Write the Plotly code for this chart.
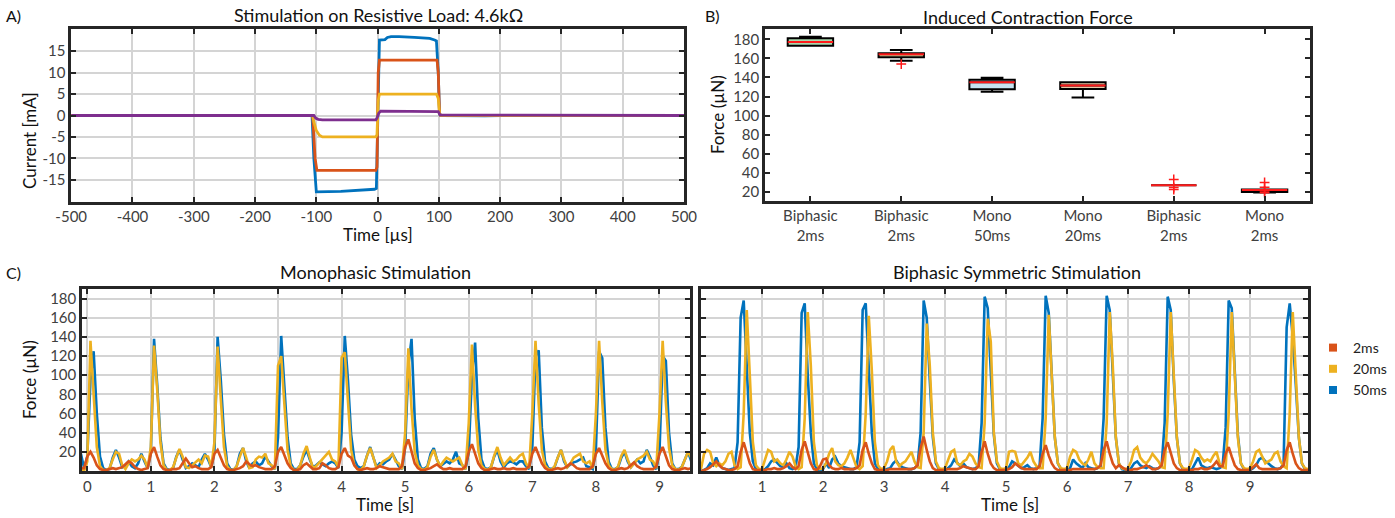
import plotly.graph_objects as go

W, H = 1395, 518

# ---------------- Panel A: stimulation on resistive load ----------------
A_T_50 = [-500, -107, -104, -100, -60, -30, -5, -2, 1, 3, 12, 16, 22, 35, 60, 85, 93, 96, 99, 101, 104, 160, 175, 200, 500]
A_I_50 = [0, 0, -10, -17.8, -17.7, -17.5, -17.2, -17.0, 10, 17.6, 17.7, 18.2, 18.4, 18.4, 18.2, 18.0, 17.6, 17.4, 10, 0.3, 0, -0.2, -0.1, 0, 0]
A_T_2 = [-500, -106, -102, -99, -3, -1, 1, 3, 97, 99, 101, 103, 500]
A_I_2 = [0, 0, -10, -12.8, -12.8, -12.0, 10, 12.9, 12.9, 10, 0.5, 0, 0]
A_T_20 = [-500, -106, -104, -100, -95, -90, -3, -1, 1, 3, 96, 99, 101, 103, 500]
A_I_20 = [0, 0, -1.5, -3.5, -4.6, -5.0, -5.0, -4.5, 3.5, 5.0, 5.0, 4.0, 0.5, 0, 0]
A_T_P = [-500, -104, -101, -97, -90, -3, -1, 2, 5, 96, 99, 102, 500]
A_I_P = [0, 0, -0.6, -0.9, -1.0, -1.0, -0.6, 0.6, 1.0, 1.0, 0.9, 0.1, 0]
A_XTICKS = [-500, -400, -300, -200, -100, 0, 100, 200, 300, 400, 500]
A_XTICKTEXT = ["-500", "-400", "-300", "-200", "-100", "0", "100", "200", "300", "400", "500"]
A_YTICKS = [-15, -10, -5, 0, 5, 10, 15]
A_YTICKTEXT = ["-15", "-10", "-5", "0", "5", "10", "15"]

# ---------------- Panel B: induced contraction force (box plots) ----------------
B_CATS = ["Biphasic<br>2ms", "Biphasic<br>2ms", "Mono<br>50ms", "Mono<br>20ms", "Biphasic<br>2ms", "Mono<br>2ms"]
B_Q1 = [173.3, 161.1, 127.6, 128.0, 27.0, 20.0]
B_MED = [177.2, 164.3, 134.9, 131.5, 27.0, 22.0]
B_Q3 = [181.0, 165.3, 137.7, 135.0, 27.0, 22.5]
B_LO = [173.3, 157.6, 125.0, 119.0, 27.0, 19.5]
B_HI = [182.7, 168.8, 139.8, 135.0, 27.0, 22.5]
B_OUT_CAT = [2, 5, 5, 5, 6, 6, 6, 6]
B_OUT_VAL = [154.0, 33.0, 24.5, 22.5, 30.0, 25.0, 21.0, 19.0]
B_YTICKS = [20, 40, 60, 80, 100, 120, 140, 160, 180]

# ---------------- Panel C: force traces (sampled every 0.05 s) ----------------
MONO_T0 = -0.1
BI_T0 = 0.0
DT = 0.05
MONO_50 = [
    18, 3, 15, 95, 125, 60, 15, 3, 1, 2, 14, 22, 14, 4, 6, 10, 5, 3, 8, 18,
    10, 3, 20, 138, 90, 35, 8, 2, 1, 3, 15, 22, 12, 3, 5, 8, 6, 4, 12, 18,
    12, 4, 20, 140, 95, 38, 8, 2, 1, 5, 18, 24, 10, 3, 8, 10, 6, 8, 15, 10,
    5, 2, 35, 141, 90, 35, 8, 2, 2, 6, 15, 22, 12, 4, 6, 9, 7, 5, 8, 10,
    8, 3, 40, 141, 95, 38, 12, 5, 3, 5, 16, 25, 14, 4, 8, 7, 10, 12, 18, 12,
    5, 2, 25, 110, 138, 55, 12, 3, 2, 5, 18, 24, 12, 5, 8, 10, 8, 12, 20, 8,
    6, 2, 20, 100, 134, 55, 12, 3, 2, 4, 15, 22, 10, 4, 8, 10, 9, 7, 10, 10,
    5, 2, 25, 120, 126, 45, 10, 3, 2, 4, 14, 22, 10, 4, 7, 9, 10, 12, 14, 5,
    4, 2, 22, 125, 118, 45, 10, 2, 2, 4, 14, 20, 10, 4, 8, 12, 8, 10, 22, 15,
    6, 2, 20, 120, 115, 40, 8, 2, 2, 4, 12, 20, 10, 4, 10, 12, 8, 6, 10, 20,
]
MONO_20 = [
    2, 0, 10, 136, 80, 25, 5, 1, 1, 3, 12, 20, 18, 6, 2, 8, 12, 10, 12, 16,
    12, 3, 25, 131, 85, 30, 6, 1, 1, 4, 14, 23, 15, 4, 3, 6, 10, 12, 8, 16,
    15, 4, 30, 130, 75, 25, 5, 1, 1, 5, 15, 24, 14, 3, 4, 12, 15, 14, 18, 8,
    6, 2, 110, 120, 70, 22, 5, 1, 1, 6, 18, 26, 14, 3, 5, 9, 12, 16, 20, 12,
    10, 4, 118, 124, 70, 22, 6, 2, 1, 5, 16, 24, 14, 3, 6, 10, 12, 14, 18, 10,
    8, 2, 40, 128, 65, 20, 6, 2, 1, 4, 15, 22, 12, 5, 10, 14, 12, 10, 12, 14,
    6, 2, 50, 132, 68, 22, 6, 2, 1, 4, 16, 25, 14, 6, 10, 14, 10, 12, 16, 18,
    8, 3, 60, 136, 70, 22, 6, 2, 1, 5, 14, 22, 12, 4, 8, 14, 16, 18, 10, 8,
    10, 3, 60, 136, 72, 22, 6, 2, 1, 5, 16, 22, 12, 4, 8, 12, 14, 16, 20, 12,
    10, 3, 60, 136, 72, 24, 6, 2, 1, 4, 12, 20, 14, 6, 8, 10, 14, 18, 22, 25,
]
MONO_2 = [
    3, 3, 15, 20, 14, 6, 2, 1, 1, 2, 3, 2, 3, 4, 7, 10, 8, 4, 2, 1,
    2, 3, 18, 25, 15, 6, 2, 1, 1, 2, 2, 3, 8, 13, 8, 4, 5, 3, 2, 2,
    2, 4, 18, 22, 14, 6, 2, 1, 1, 2, 3, 5, 10, 7, 5, 6, 4, 3, 2, 2,
    2, 5, 20, 25, 16, 8, 3, 1, 1, 2, 6, 8, 5, 2, 2, 3, 8, 6, 3, 2,
    2, 4, 18, 24, 16, 14, 6, 2, 1, 2, 3, 2, 2, 3, 5, 4, 3, 2, 2, 2,
    2, 5, 25, 33, 20, 8, 3, 1, 1, 2, 3, 5, 7, 4, 2, 2, 3, 2, 2, 2,
    2, 5, 20, 28, 18, 8, 3, 1, 1, 2, 3, 2, 2, 3, 2, 2, 3, 2, 2, 2,
    2, 5, 18, 25, 16, 8, 3, 1, 1, 2, 3, 2, 3, 5, 8, 6, 3, 2, 2, 2,
    2, 5, 18, 24, 16, 8, 3, 1, 1, 2, 3, 2, 3, 6, 9, 5, 3, 2, 2, 2,
    2, 5, 18, 25, 16, 6, 2, 1, 1, 2, 3, 2, 3, 4, 8, 5, 3, 2, 2, 2,
]
BI_50 = [
    0, 1, 3, 8, 6, 14, 6, 3, 2, 1, 2, 3, 30, 160, 178, 110, 40, 10, 2, 0,
    1, 2, 5, 10, 12, 8, 5, 4, 8, 3, 2, 4, 25, 165, 175, 100, 40, 8, 2, 1,
    2, 8, 3, 12, 15, 8, 5, 4, 3, 2, 2, 4, 30, 168, 175, 105, 40, 8, 2, 1,
    1, 2, 3, 8, 11, 6, 4, 3, 2, 2, 3, 6, 40, 178, 160, 95, 35, 8, 2, 0,
    1, 3, 6, 12, 8, 5, 8, 4, 3, 2, 3, 5, 50, 182, 170, 100, 38, 8, 2, 1,
    2, 4, 10, 8, 5, 3, 4, 6, 3, 2, 3, 5, 55, 183, 165, 95, 35, 8, 2, 1,
    1, 3, 12, 8, 5, 3, 8, 4, 3, 2, 3, 5, 55, 183, 168, 95, 35, 8, 2, 1,
    1, 3, 8, 10, 6, 4, 3, 5, 3, 2, 3, 5, 50, 182, 168, 95, 35, 8, 2, 1,
    1, 2, 8, 14, 6, 4, 3, 4, 3, 2, 3, 5, 45, 178, 170, 100, 38, 8, 2, 1,
    1, 3, 6, 12, 14, 10, 8, 5, 3, 2, 3, 8, 150, 175, 140, 90, 35, 8, 2, 0,
]
BI_20 = [
    2, 18, 22, 20, 8, 5, 8, 6, 10, 18, 20, 6, 2, 4, 60, 168, 100, 30, 6, 2,
    2, 12, 22, 20, 10, 12, 8, 6, 12, 20, 15, 5, 2, 4, 55, 166, 110, 30, 6, 2,
    3, 8, 18, 24, 10, 6, 5, 8, 14, 22, 12, 4, 2, 5, 60, 162, 105, 30, 6, 2,
    3, 10, 22, 26, 10, 5, 8, 10, 15, 20, 10, 4, 3, 40, 154, 110, 40, 10, 3, 2,
    3, 12, 20, 22, 8, 6, 10, 12, 18, 15, 8, 4, 3, 50, 159, 135, 40, 10, 3, 2,
    3, 20, 21, 20, 8, 6, 10, 14, 20, 10, 5, 3, 3, 55, 163, 100, 35, 8, 3, 2,
    3, 15, 22, 20, 12, 8, 6, 12, 20, 8, 4, 3, 3, 50, 166, 110, 35, 8, 3, 2,
    3, 10, 22, 25, 14, 10, 8, 12, 18, 14, 10, 4, 3, 60, 166, 100, 35, 8, 3, 2,
    3, 12, 22, 20, 14, 10, 12, 10, 16, 20, 8, 4, 3, 60, 166, 100, 35, 8, 3, 2,
    3, 10, 20, 22, 15, 8, 10, 12, 18, 20, 10, 5, 3, 60, 166, 100, 35, 8, 3, 2,
]
BI_2 = [
    0, 1, 2, 4, 7, 10, 6, 3, 2, 1, 1, 2, 5, 20, 30, 18, 8, 2, 1, 1,
    1, 1, 2, 2, 3, 2, 2, 3, 5, 8, 4, 2, 5, 22, 31, 18, 8, 2, 1, 5,
    12, 13, 6, 3, 2, 2, 3, 2, 2, 2, 2, 3, 6, 22, 30, 18, 8, 2, 1, 1,
    1, 1, 2, 2, 2, 2, 2, 2, 2, 2, 3, 6, 24, 36, 22, 10, 3, 1, 1, 1,
    1, 2, 2, 2, 2, 3, 5, 4, 3, 2, 2, 5, 20, 31, 18, 8, 3, 1, 1, 1,
    1, 2, 4, 8, 5, 3, 2, 2, 2, 2, 2, 5, 18, 27, 16, 8, 3, 1, 1, 1,
    1, 1, 2, 2, 2, 2, 2, 2, 2, 2, 3, 6, 22, 31, 18, 8, 3, 6, 4, 2,
    1, 1, 2, 2, 3, 4, 6, 4, 2, 2, 3, 6, 22, 30, 18, 8, 3, 1, 1, 1,
    1, 1, 2, 2, 3, 2, 2, 3, 6, 10, 5, 5, 18, 25, 15, 6, 2, 1, 1, 1,
    1, 4, 7, 3, 2, 2, 2, 2, 2, 2, 3, 6, 22, 30, 18, 8, 3, 1, 1, 1,
]
C_LEFT_XTICKS = [0, 1, 2, 3, 4, 5, 6, 7, 8, 9]
C_RIGHT_XTICKS = [1, 2, 3, 4, 5, 6, 7, 8, 9]
C_YTICKS = [20, 40, 60, 80, 100, 120, 140, 160, 180]
LEGEND_NAMES = ["2ms", "20ms", "50ms"]

# ---------------- styling ----------------
BLUE, ORANGE, YELLOW, PURPLE = "#0072BD", "#D95319", "#EDB120", "#7E2F8E"
BOX_FILLS = ["#a9d6ad", "#f6e3a0", "#c6e4f1", "#ebcba8", "#f4b6b6", "#c44"]
FONT = "Lato, 'Open Sans', sans-serif"
AX = "#262626"
GRID = "#d4d4d4"
TICKC = "#404040"


def px_x(p):
    return p / W


def px_y(p):
    return 1 - p / H


mono_t = [MONO_T0 + DT * i for i in range(len(MONO_50))]
bi_t = [BI_T0 + DT * i for i in range(len(BI_50))]

fig = go.Figure()

# Panel A traces
for t, v, c in [(A_T_50, A_I_50, BLUE), (A_T_2, A_I_2, ORANGE), (A_T_20, A_I_20, YELLOW), (A_T_P, A_I_P, PURPLE)]:
    fig.add_trace(go.Scatter(x=t, y=v, mode="lines", line=dict(color=c, width=2.8),
                             showlegend=False, xaxis="x", yaxis="y", hoverinfo="skip"))

# Panel B boxes
for i in range(len(B_CATS)):
    fig.add_trace(go.Box(x=[i + 1], q1=[B_Q1[i]], median=[B_MED[i]], q3=[B_Q3[i]],
                         lowerfence=[B_LO[i]], upperfence=[B_HI[i]], width=0.5,
                         whiskerwidth=0.5, fillcolor=BOX_FILLS[i],
                         line=dict(color="black", width=2), boxpoints=False,
                         showlegend=False, xaxis="x2", yaxis="y2"))
for i in range(len(B_CATS)):
    fig.add_trace(go.Scatter(x=[i + 1 - 0.25, i + 1 + 0.25], y=[B_MED[i], B_MED[i]], mode="lines",
                             line=dict(color="#ff1a1a", width=2), showlegend=False,
                             xaxis="x2", yaxis="y2", hoverinfo="skip"))
fig.add_trace(go.Scatter(x=B_OUT_CAT, y=B_OUT_VAL, mode="markers",
                         marker=dict(symbol="cross-thin", size=7, line=dict(color="#ff1a1a", width=1.5)),
                         showlegend=False, xaxis="x2", yaxis="y2"))

# Panel C traces
for t, series, xa, ya in [(mono_t, (MONO_50, MONO_20, MONO_2), "x3", "y3"),
                          (bi_t, (BI_50, BI_20, BI_2), "x4", "y4")]:
    for vals, c in zip(series, (BLUE, YELLOW, ORANGE)):
        fig.add_trace(go.Scatter(x=t, y=vals, mode="lines", line=dict(color=c, width=2.6),
                                 showlegend=False, xaxis=xa, yaxis=ya, hoverinfo="skip"))

# legend-only entries
for name, c in zip(LEGEND_NAMES, (ORANGE, YELLOW, BLUE)):
    fig.add_trace(go.Scatter(x=[None], y=[None], mode="markers", name=name,
                             marker=dict(symbol="square", size=8, color=c),
                             xaxis="x4", yaxis="y4"))


def axis(dom, rng, tickvals, ticktext=None, grid=True, anchor=None, showlabels=True, tickfont=15):
    d = dict(domain=dom, range=rng, tickvals=tickvals, showgrid=grid, gridcolor=GRID, gridwidth=2,
             zeroline=False, showline=True, linecolor=AX, linewidth=2.5, mirror="ticks",
             ticks="inside", ticklen=5, tickwidth=2, tickcolor=AX, automargin=False,
             tickfont=dict(size=tickfont, color=TICKC, family=FONT), showticklabels=showlabels)
    if ticktext is not None:
        d["ticktext"] = ticktext
    if anchor:
        d["anchor"] = anchor
    return d


A_X = [71.2, 684]
A_Y = [29.3, 201.7]
B_X = [765, 1310]
B_Y = [29.3, 200.5]
CL_X = [82, 690]
CR_X = [701, 1308]
C_Y = [289, 471]

fig.update_layout(
    width=W, height=H, margin=dict(l=0, r=0, t=0, b=0, autoexpand=False),
    paper_bgcolor="white", plot_bgcolor="white",
    font=dict(family=FONT, color="#222"),
    xaxis=axis([px_x(A_X[0]), px_x(A_X[1])], [-500, 500], A_XTICKS, A_XTICKTEXT, anchor="y"),
    yaxis=axis([px_y(A_Y[1]), px_y(A_Y[0])], [-20.1, 20.1], A_YTICKS, A_YTICKTEXT, anchor="x"),
    xaxis2=axis([px_x(B_X[0]), px_x(B_X[1])], [0.5, 6.5], [1, 2, 3, 4, 5, 6], B_CATS, grid=False, anchor="y2"),
    yaxis2=axis([px_y(B_Y[1]), px_y(B_Y[0])], [11, 190.5], B_YTICKS, grid=False, anchor="x2"),
    xaxis3=axis([px_x(CL_X[0]), px_x(CL_X[1])], [-0.083, 9.48], C_LEFT_XTICKS, anchor="y3"),
    yaxis3=axis([px_y(C_Y[1]), px_y(C_Y[0])], [0, 190], C_YTICKS, anchor="x3"),
    xaxis4=axis([px_x(CR_X[0]), px_x(CR_X[1])], [0, 9.95], C_RIGHT_XTICKS, anchor="y4"),
    yaxis4=axis([px_y(C_Y[1]), px_y(C_Y[0])], [0, 190], C_YTICKS, anchor="x4", showlabels=False),
    legend=dict(x=px_x(1313), y=px_y(332), xanchor="left", yanchor="top",
                font=dict(size=14, color="#222", family=FONT), bgcolor="rgba(0,0,0,0)",
                itemwidth=30, tracegroupgap=0),
    showlegend=True,
)


def ann(text, x, y, size=17, angle=0, xanchor="center"):
    fig.add_annotation(text=text, x=px_x(x), y=px_y(y), xref="paper", yref="paper",
                       showarrow=False, textangle=angle, xanchor=xanchor, yanchor="middle",
                       font=dict(size=size, family=FONT, color="#111"))


ann("A)", 4, 15, 16, xanchor="left")
ann("B)", 703, 15, 16, xanchor="left")
ann("C)", 4, 272, 16, xanchor="left")
ann("Stimulation on Resistive Load: 4.6kΩ", 378, 15, 18)
ann("Induced Contraction Force", 1028, 17, 18)
ann("Monophasic Stimulation", 375, 272, 18)
ann("Biphasic Symmetric Stimulation", 1017, 272, 18)
ann("Time [µs]", 378, 234, 17)
ann("Time [s]", 385, 504, 17)
ann("Time [s]", 1010, 504, 17)
ann("Current [mA]", 29, 141, 17, angle=-90)
ann("Force (µN)", 717, 115, 17, angle=-90)
ann("Force (µN)", 29, 380, 17, angle=-90)

fig.write_html("out.html", config={"displayModeBar": False},
               post_script="document.body.style.margin='0';document.body.style.overflow='hidden';")
